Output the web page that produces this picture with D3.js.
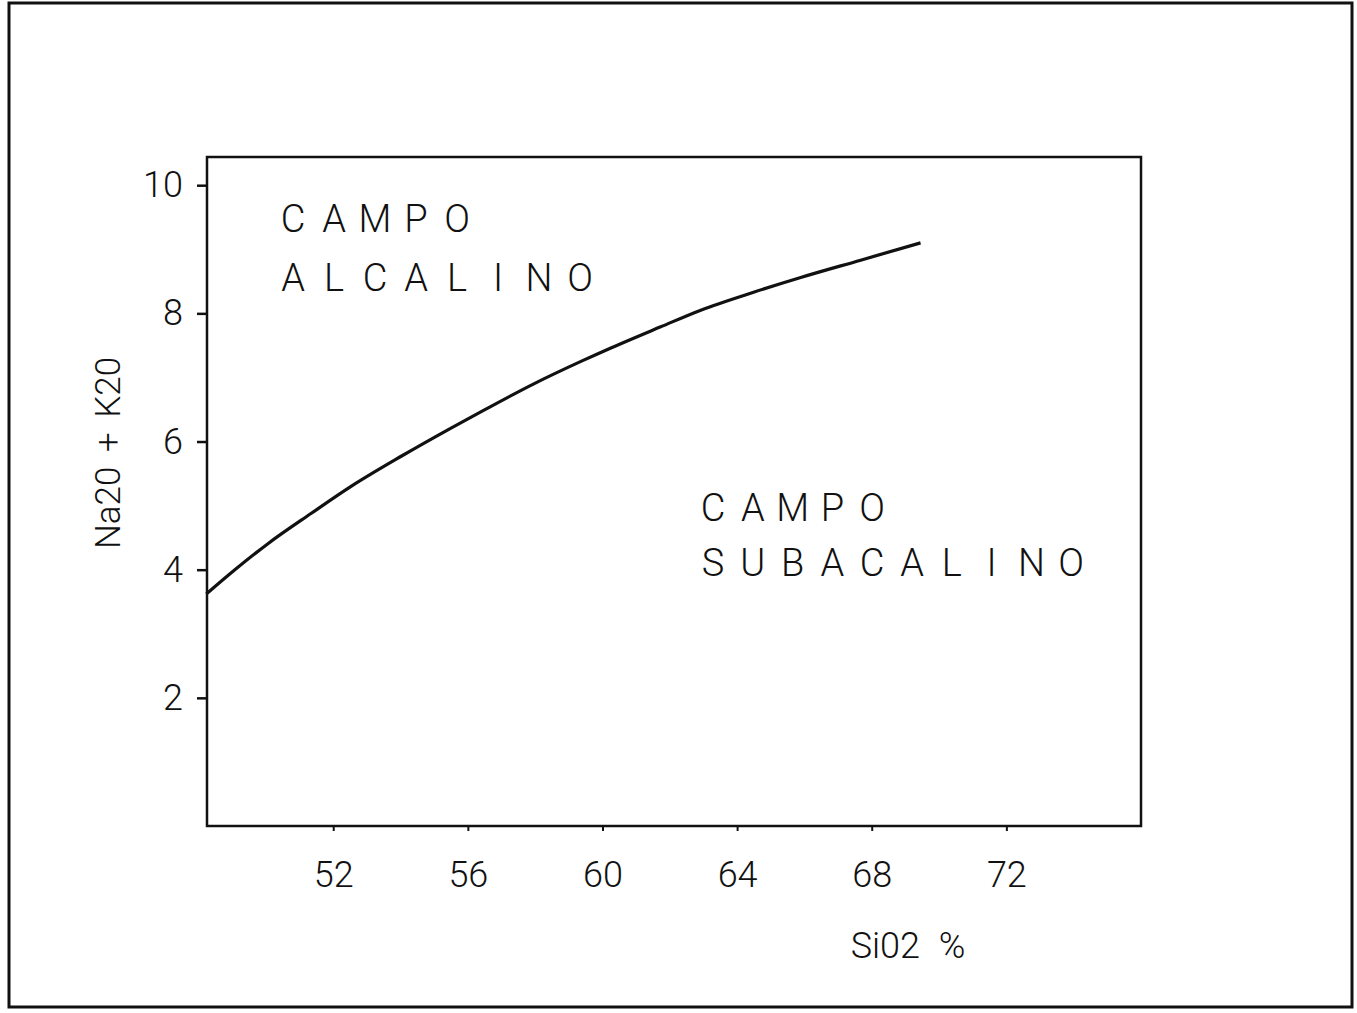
<!DOCTYPE html>
<html>
<head>
<meta charset="utf-8">
<script src="https://cdn.jsdelivr.net/npm/d3@7"></script>
<style>
  html, body { margin: 0; padding: 0; background: #fff; }
  svg { display: block; }
  text { font-family: Roboto, "Liberation Sans", sans-serif; font-weight: 300; fill: #111; }
</style>
</head>
<body>
<svg id="chart" width="1357" height="1013"></svg>
<script>
// Alkaline / subalkaline dividing curve (SiO2 % vs Na2O + K2O)
const silica = [48.23, 49.06, 50.07, 51.35, 52.53, 54.02, 55.50, 56.48, 57.96, 59.36, 60.25, 61.73, 62.92, 64.49, 65.89, 67.67, 69.45];
const alkalis = [3.62, 3.99, 4.41, 4.88, 5.30, 5.77, 6.21, 6.49, 6.90, 7.25, 7.46, 7.79, 8.05, 8.33, 8.56, 8.83, 9.10];

const xTicks = [52, 56, 60, 64, 68, 72];
const yTicks = [2, 4, 6, 8, 10];

const xTitle = "Si02 %";
const yTitle = "Na20 + K20";
const fieldUpper = ["CAMPO", "ALCALINO"];
const fieldLower = ["CAMPO", "SUBACALINO"];

const svg = d3.select("#chart");

// outer frame
svg.append("rect")
  .attr("x", 9).attr("y", 3)
  .attr("width", 1343).attr("height", 1004)
  .attr("fill", "none").attr("stroke", "#111").attr("stroke-width", 3);

const plot = { left: 207, top: 157, right: 1141, bottom: 826 };

const x = d3.scaleLinear().domain([48.25, 76.0]).range([plot.left, plot.right]);
const y = d3.scaleLinear().domain([0, 10.44]).range([plot.bottom, plot.top]);

// axes
const yAxis = svg.append("g")
  .attr("transform", `translate(${plot.left},0)`)
  .call(d3.axisLeft(y).tickValues(yTicks).tickFormat(d3.format("d")).tickSize(10).tickPadding(14));
yAxis.select(".domain").remove();
yAxis.selectAll(".tick line").attr("stroke", "#111").attr("stroke-width", 2.5);
yAxis.selectAll(".tick text").attr("font-size", 36).attr("font-family", null).attr("fill", "#111");

const xAxis = svg.append("g")
  .attr("transform", `translate(0,${plot.bottom})`)
  .call(d3.axisBottom(x).tickValues(xTicks).tickFormat(d3.format("d")).tickSize(5).tickPadding(30));
xAxis.select(".domain").remove();
xAxis.selectAll(".tick line").attr("stroke", "#111").attr("stroke-width", 2);
xAxis.selectAll(".tick text").attr("font-size", 36).attr("font-family", null).attr("fill", "#111");

// plot box
svg.append("rect")
  .attr("x", plot.left).attr("y", plot.top)
  .attr("width", plot.right - plot.left).attr("height", plot.bottom - plot.top)
  .attr("fill", "none").attr("stroke", "#111").attr("stroke-width", 2.5);

// dividing curve
const pts = silica.map((s, i) => [s, alkalis[i]]);
svg.append("path")
  .datum(pts)
  .attr("fill", "none")
  .attr("stroke", "#111")
  .attr("stroke-width", 3.2)
  .attr("stroke-linejoin", "round")
  .attr("d", d3.line().x(d => x(d[0])).y(d => y(d[1])).curve(d3.curveMonotoneX));

// axis titles
svg.append("text")
  .attr("x", 908).attr("y", 958)
  .attr("text-anchor", "middle")
  .attr("font-size", 36)
  .attr("word-spacing", 10)
  .text(xTitle);

svg.append("text")
  .attr("transform", "translate(120,453) rotate(-90)")
  .attr("text-anchor", "middle")
  .attr("font-size", 35)
  .attr("word-spacing", 6)
  .text(yTitle);

// field labels, each letter centred on an even pitch
function spaced(lines, cx0, y0, pitch, lead) {
  lines.forEach((s, li) => {
    svg.append("text")
      .attr("x", s.split("").map((c, i) => cx0 + i * pitch).join(" "))
      .attr("y", y0 + li * lead)
      .attr("text-anchor", "middle")
      .attr("font-size", 38)
      .text(s);
  });
}
spaced(fieldUpper, 293, 232, 41, 59);
spaced(fieldLower, 713, 521, 39.8, 55);
</script>
</body>
</html>
